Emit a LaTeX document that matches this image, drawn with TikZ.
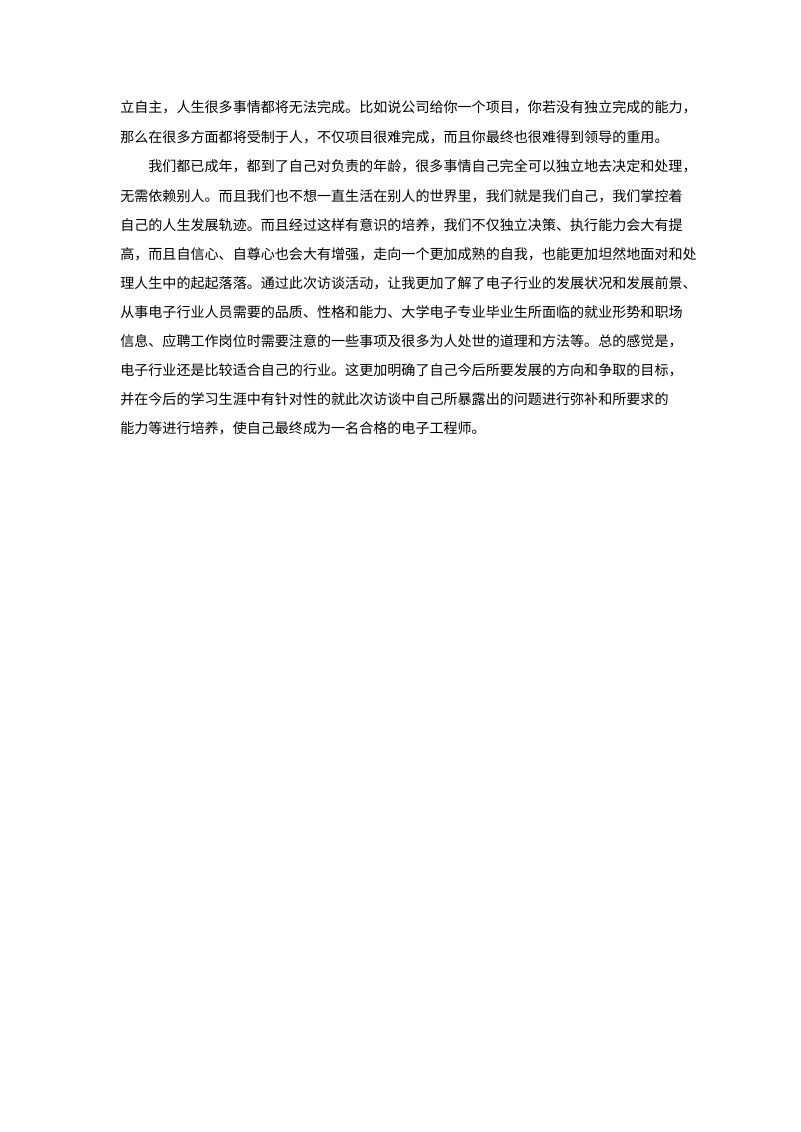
\documentclass[tikz,border=0pt]{standalone}
\usepackage{fontspec}
\newfontfamily\cjk{Noto Sans CJK SC}
\begin{document}
\begin{tikzpicture}[line/.style = {anchor = west, inner sep = 0pt, font = \cjk\fontsize{10pt}{12pt}\selectfont}]
    \useasboundingbox[fill = white] (0, 0) rectangle (20, -28.3);

    \node [line] (l1) at (3, -2.68) {立自主，人生很多事情都将无法完成。比如说公司给你一个项目，你若没有独立完成的能力，};
    \node [line] (l2) at (3, -3.42) {那么在很多方面都将受制于人，不仅项目很难完成，而且你最终也很难得到领导的重用。};
    \node [line] (l3) at (3.7, -4.15) {我们都已成年，都到了自己对负责的年龄，很多事情自己完全可以独立地去决定和处理，};
    \node [line] (l4) at (3, -4.9) {无需依赖别人。而且我们也不想一直生活在别人的世界里，我们就是我们自己，我们掌控着};
    \node [line] (l5) at (3, -5.62) {自己的人生发展轨迹。而且经过这样有意识的培养，我们不仅独立决策、执行能力会大有提};
    \node [line] (l6) at (3, -6.35) {高，而且自信心、自尊心也会大有增强，走向一个更加成熟的自我，也能更加坦然地面对和处};
    \node [line] (l7) at (3, -7.08) {理人生中的起起落落。通过此次访谈活动，让我更加了解了电子行业的发展状况和发展前景、};
    \node [line] (l8) at (3, -7.8) {从事电子行业人员需要的品质、性格和能力、大学电子专业毕业生所面临的就业形势和职场};
    \node [line] (l9) at (3, -8.53) {信息、应聘工作岗位时需要注意的一些事项及很多为人处世的道理和方法等。总的感觉是，};
    \node [line] (l10) at (3, -9.25) {电子行业还是比较适合自己的行业。这更加明确了自己今后所要发展的方向和争取的目标，};
    \node [line] (l11) at (3, -9.98) {并在今后的学习生涯中有针对性的就此次访谈中自己所暴露出的问题进行弥补和所要求的};
    \node [line] (l12) at (3, -10.7) {能力等进行培养，使自己最终成为一名合格的电子工程师。};
\end{tikzpicture}
\end{document}
